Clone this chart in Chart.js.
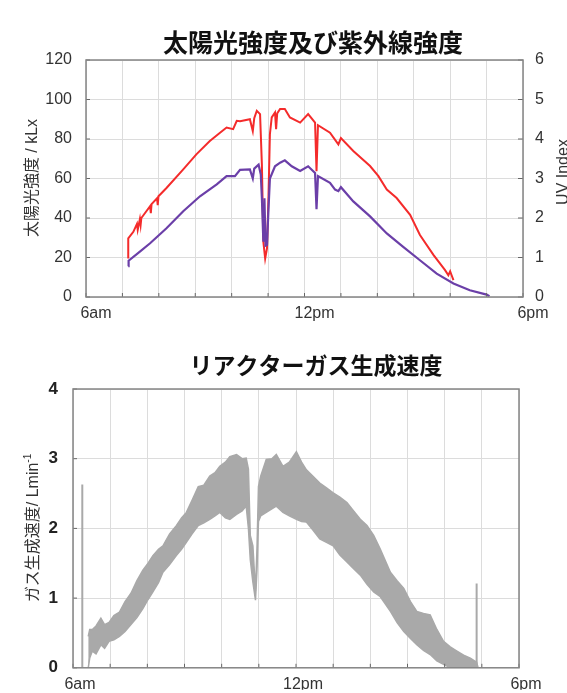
<!DOCTYPE html>
<html>
<head>
<meta charset="utf-8">
<script src="https://cdn.jsdelivr.net/npm/chart.js@4.4.1/dist/chart.umd.min.js"></script>
<style>
  body { margin: 0; background: #fff; }
  #wrap { position: relative; width: 567px; height: 693px; }
  canvas { position: absolute; left: 0; }
  #sunChart { top: 0; }
  #gasChart { top: 322px; }
</style>
</head>
<body>
<div id="wrap">
  <canvas id="sunChart" width="567" height="322"></canvas>
  <canvas id="gasChart" width="567" height="371"></canvas>
</div>
<script>
// x axis is hours of the day (6 = 6am, 18 = 6pm)
const tickHours = [6, 12, 18];
const tickNames = ["6am", "12pm", "6pm"];

// sunlight intensity, kLx (left axis)
const sunTime = [7.16, 7.16, 7.30, 7.40, 7.42, 7.48, 7.50, 7.52, 7.76, 7.78, 7.80, 7.95, 7.97, 7.99,
  8.21, 8.67, 9.03, 9.40, 9.68, 9.86, 10.04, 10.14, 10.23, 10.50, 10.58, 10.62, 10.69, 10.78,
  10.83, 10.87, 10.92, 10.97, 11.01, 11.05, 11.10, 11.19, 11.22, 11.25, 11.33, 11.46, 11.60,
  11.88, 12.10, 12.29, 12.33, 12.37, 12.70, 12.93, 13.00, 13.34, 13.80, 14.03, 14.26, 14.53,
  14.90, 15.17, 15.54, 15.86, 15.95, 16.00, 16.04, 16.09];
const sunKlx = [19.5, 29.7, 33, 37, 34, 39.5, 36.5, 40, 46, 42.5, 47, 50, 46.5, 51,
  55.2, 64.6, 72.2, 79, 83.2, 85.8, 85, 89.2, 89, 90, 84, 90.5, 94.3, 92.6,
  67, 28, 19.5, 24.6, 50, 82.4, 90.9, 93.4, 85, 93, 95.2, 95.2, 90.9,
  88.3, 92.6, 88.3, 63.7, 87, 83.2, 77.3, 80.5, 73.9, 66.3, 61.2, 54.4, 50.1,
  41.6, 31.4, 21.3, 13.6, 11, 13, 11, 8.5];

// UV index (right axis)
const uvTime = [7.16, 7.17, 7.48, 7.76, 8.21, 8.67, 9.13, 9.59, 9.86, 10.09, 10.23, 10.50, 10.58,
  10.62, 10.74, 10.80, 10.83, 10.87, 10.90, 10.93, 10.97, 11.01, 11.05, 11.19, 11.33, 11.46,
  11.65, 11.88, 12.10, 12.29, 12.33, 12.37, 12.70, 12.84, 12.93, 13.00, 13.34, 13.80, 14.26,
  14.71, 15.17, 15.63, 16.09, 16.54, 17.00, 17.08];
const uvIndex = [0.78, 0.92, 1.15, 1.36, 1.74, 2.17, 2.55, 2.85, 3.06, 3.06, 3.22, 3.23, 3.0,
  3.25, 3.35, 3.1, 2.5, 1.4, 2.5, 1.3, 1.32, 2.2, 3.0, 3.31, 3.4, 3.46,
  3.31, 3.19, 3.31, 3.14, 2.22, 3.06, 2.89, 2.72, 2.68, 2.78, 2.42, 2.04, 1.61,
  1.27, 0.93, 0.59, 0.34, 0.17, 0.06, 0.02];

// reactor gas generation rate, L/min: the noisy trace is drawn as a band between its envelopes
const gasTime = [6.41, 6.45, 6.52, 6.62, 6.75, 6.85, 6.97, 7.10, 7.25, 7.40, 7.56, 7.72, 7.88,
  8.02, 8.15, 8.30, 8.42, 8.60, 8.78, 8.92, 9.05, 9.20, 9.37, 9.52, 9.68, 9.82, 9.95, 10.10,
  10.22, 10.40, 10.55, 10.66, 10.72, 10.77, 10.84, 10.91, 10.95, 10.99, 11.05, 11.20, 11.35,
  11.47, 11.65, 11.82, 12.01, 12.15, 12.28, 12.45, 12.64, 12.82, 13.00, 13.18, 13.37, 13.55,
  13.73, 13.91, 14.09, 14.27, 14.54, 14.72, 14.90, 15.08, 15.25, 15.43, 15.61, 15.79, 15.97,
  16.15, 16.33, 16.51, 16.69, 16.86, 16.90];
const gasUpper = [0.45, 0.55, 0.55, 0.60, 0.71, 0.62, 0.65, 0.75, 0.80, 0.95, 1.07, 1.25, 1.40,
  1.50, 1.61, 1.70, 1.75, 1.92, 2.04, 2.15, 2.23, 2.40, 2.60, 2.62, 2.75, 2.80, 2.89, 2.95,
  3.03, 3.06, 3.00, 3.01, 2.85, 1.90, 1.75, 1.10, 1.70, 2.60, 2.75, 2.99, 3.00,
  3.06, 2.89, 2.95, 3.10, 2.95, 2.84, 2.75, 2.65, 2.58, 2.51, 2.45, 2.37, 2.25,
  2.13, 2.04, 1.90, 1.70, 1.37, 1.25, 1.14, 0.95, 0.81, 0.78, 0.76, 0.55, 0.38,
  0.30, 0.24, 0.18, 0.14, 0.08, 0.00];
const gasLower = [0.00, 0.14, 0.24, 0.20, 0.33, 0.28, 0.38, 0.40, 0.45, 0.52, 0.62, 0.72, 0.85,
  0.98, 1.09, 1.22, 1.37, 1.48, 1.61, 1.70, 1.80, 1.92, 2.04, 2.08, 2.13, 2.18, 2.23, 2.15,
  2.13, 2.20, 2.25, 2.32, 2.00, 1.55, 1.23, 0.97, 1.40, 2.10, 2.18, 2.23, 2.28,
  2.32, 2.23, 2.18, 2.13, 2.10, 2.09, 1.98, 1.85, 1.80, 1.75, 1.62, 1.52, 1.42,
  1.33, 1.20, 1.09, 1.02, 0.81, 0.65, 0.52, 0.42, 0.33, 0.25, 0.19, 0.10, 0.05,
  0.00, 0.00, 0.00, 0.00, 0.00, 0.00];
// isolated single spikes
const spikeTime = [6.25, 16.86];
const spikeTop = [2.63, 1.21];

const FONT = "'Liberation Sans', 'Noto Sans CJK JP', Arial, sans-serif";
const GRID = "#dcdcdc";

function pts(xs, ys) {
  return xs.map((x, i) => ({ x: x, y: ys[i] }));
}

function hourLabel(v) {
  const i = tickHours.indexOf(v);
  return i >= 0 ? tickNames[i] : "";
}

// frame around the plot + short inward tick marks
const framePlugin = {
  id: "frame",
  afterDatasetsDraw(chart) {
    const { ctx, chartArea: a, scales } = chart;
    ctx.save();
    ctx.strokeStyle = "#666";
    ctx.lineWidth = 1;
    for (const id of Object.keys(scales)) {
      const s = scales[id];
      for (const t of s.ticks) {
        const p = s.getPixelForValue(t.value);
        ctx.beginPath();
        if (s.axis === "x") { ctx.moveTo(p, a.bottom); ctx.lineTo(p, a.bottom - 4); }
        else if (s.position === "right") { ctx.moveTo(a.right, p); ctx.lineTo(a.right - 5, p); }
        else { ctx.moveTo(a.left, p); ctx.lineTo(a.left + 4, p); }
        ctx.stroke();
      }
    }
    ctx.strokeStyle = "#858585";
    ctx.lineWidth = 1.5;
    ctx.strokeRect(a.left, a.top, a.right - a.left, a.bottom - a.top);
    ctx.restore();
  }
};

// titles and axis titles
const textPlugin = {
  id: "texts",
  afterDraw(chart, args, opts) {
    const ctx = chart.ctx;
    for (const t of opts.items || []) {
      ctx.save();
      ctx.translate(t.x, t.y);
      if (t.rotate) ctx.rotate(t.rotate);
      ctx.fillStyle = t.color || "#222";
      ctx.textBaseline = "middle";
      ctx.font = t.font;
      const w = ctx.measureText(t.text).width;
      let sw = 0;
      if (t.sup) { ctx.font = t.supFont; sw = ctx.measureText(t.sup).width; }
      ctx.textAlign = "left";
      ctx.font = t.font;
      ctx.fillText(t.text, -(w + sw) / 2, 0);
      if (t.sup) {
        ctx.font = t.supFont;
        ctx.fillText(t.sup, -(w + sw) / 2 + w, -6);
      }
      ctx.restore();
    }
  }
};

const xScale = (height, offset) => ({
  type: "linear",
  min: 6,
  max: 18,
  afterFit: s => { s.height = height; },
  grid: { color: GRID, drawTicks: false },
  border: { display: false },
  ticks: {
    stepSize: 1,
    autoSkip: false,
    maxRotation: 0,
    padding: 7,
    labelOffset: offset,
    color: "#333",
    font: { family: FONT, size: 16 },
    callback: hourLabel
  }
});

new Chart(document.getElementById("sunChart"), {
  type: "line",
  data: {
    datasets: [
      {
        label: "UV Index",
        data: pts(uvTime, uvIndex),
        yAxisID: "y1",
        borderColor: "#6b3fa8",
        borderWidth: 2.2,
        pointRadius: 0,
        tension: 0
      },
      {
        label: "太陽光強度",
        data: pts(sunTime, sunKlx),
        yAxisID: "y",
        borderColor: "#f42b2b",
        borderWidth: 2,
        pointRadius: 0,
        tension: 0
      }
    ]
  },
  options: {
    responsive: false,
    animation: false,
    layout: { padding: { top: 60 } },
    plugins: {
      legend: { display: false },
      tooltip: { enabled: false },
      texts: {
        items: [
          { text: "太陽光強度及び紫外線強度", x: 313, y: 42, font: "bold 25px 'Noto Sans CJK JP', sans-serif", color: "#111" },
          { text: "太陽光強度 / kLx", x: 33, y: 178, rotate: -Math.PI / 2, font: "16px " + FONT, color: "#333" },
          { text: "UV Index", x: 564, y: 172, rotate: -Math.PI / 2, font: "16px " + FONT, color: "#333" }
        ]
      }
    },
    scales: {
      x: xScale(25, 10),
      y: {
        position: "left",
        min: 0,
        max: 120,
        afterFit: s => { s.width = 86; },
        grid: { color: GRID, drawTicks: false },
        border: { display: false },
        ticks: { stepSize: 20, padding: 14, color: "#333", font: { family: FONT, size: 16 } }
      },
      y1: {
        position: "right",
        min: 0,
        max: 6,
        afterFit: s => { s.width = 44; },
        grid: { drawOnChartArea: false, drawTicks: false },
        border: { display: false },
        ticks: { stepSize: 1, padding: 12, color: "#333", font: { family: FONT, size: 16 } }
      }
    }
  },
  plugins: [framePlugin, textPlugin]
});

const GAS = "#a9a9a9";

new Chart(document.getElementById("gasChart"), {
  type: "line",
  data: {
    datasets: [
      {
        label: "upper",
        data: pts(gasTime, gasUpper),
        borderColor: GAS,
        borderWidth: 1.5,
        pointRadius: 0,
        fill: false,
        tension: 0
      },
      {
        label: "lower",
        data: pts(gasTime, gasLower),
        borderColor: GAS,
        borderWidth: 1.5,
        backgroundColor: GAS,
        pointRadius: 0,
        fill: "-1",
        tension: 0
      },
      ...spikeTime.map((t, i) => ({
        label: "spike" + i,
        data: [{ x: t, y: 0 }, { x: t, y: spikeTop[i] }],
        borderColor: GAS,
        borderWidth: 2,
        pointRadius: 0,
        fill: false
      }))
    ]
  },
  options: {
    responsive: false,
    animation: false,
    layout: { padding: { top: 67, right: 48 } },
    plugins: {
      legend: { display: false },
      tooltip: { enabled: false },
      texts: {
        items: [
          { text: "リアクターガス生成速度", x: 316, y: 43, font: "bold 23px 'Noto Sans CJK JP', sans-serif", color: "#111" },
          { text: "ガス生成速度/ Lmin", sup: "-1", x: 34, y: 206, rotate: -Math.PI / 2,
            font: "16px " + FONT, supFont: "10px " + FONT, color: "#333" }
        ]
      }
    },
    scales: {
      x: xScale(22, 7),
      y: {
        min: 0,
        max: 4,
        afterFit: s => { s.width = 73; },
        grid: { color: GRID, drawTicks: false },
        border: { display: false },
        ticks: { stepSize: 1, padding: 15, color: "#222", font: { family: FONT, size: 17, weight: "bold" } }
      }
    }
  },
  plugins: [framePlugin, textPlugin]
});
</script>
</body>
</html>
